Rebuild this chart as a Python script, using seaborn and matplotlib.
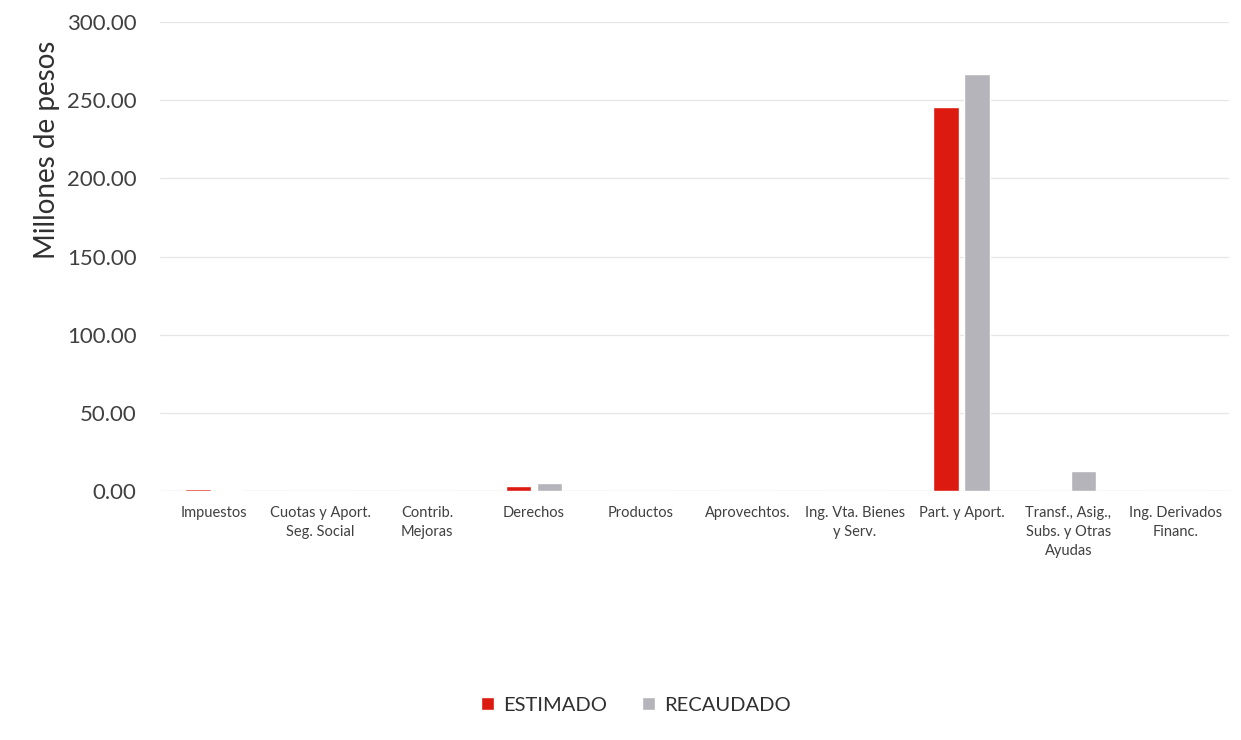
import matplotlib
matplotlib.use("Agg")
import matplotlib.pyplot as plt
import seaborn as sns
import pandas as pd
from matplotlib.ticker import FuncFormatter

categorias = ["Impuestos", "Cuotas y Aport.\nSeg. Social", "Contrib.\nMejoras", "Derechos",
              "Productos", "Aprovechtos.", "Ing. Vta. Bienes\ny Serv.", "Part. y Aport.",
              "Transf., Asig.,\nSubs. y Otras\nAyudas", "Ing. Derivados\nFinanc."]
estimado = [1.2, 0.0, 0.0, 3.0, 0.0, 0.0, 0.0, 245.8, 0.0, 0.0]
recaudado = [0.4, 0.0, 0.0, 4.8, 0.0, 0.0, 0.0, 266.8, 12.8, 0.0]
series = ["ESTIMADO", "RECAUDADO"]
colores = ["#dc1a10", "#b4b4ba"]

df = pd.DataFrame({
    "categoria": categorias * 2,
    "valor": estimado + recaudado,
    "serie": [series[0]] * len(categorias) + [series[1]] * len(categorias),
})

sns.set_theme(style="white")
plt.rcParams["font.family"] = ["Lato", "DejaVu Sans"]

fig = plt.figure(figsize=(12.41, 7.40), dpi=100)
ax = fig.add_axes([0.129, 0.3365, 0.861, 0.6335])

sns.barplot(data=df, x="categoria", y="valor", hue="serie", palette=colores,
            width=0.58, gap=0.19, ax=ax, saturation=1, legend=True)

ax.set_ylim(0, 300)
ax.set_yticks([0, 50, 100, 150, 200, 250, 300])
ax.yaxis.set_major_formatter(FuncFormatter(lambda v, p: f"{v:.2f}"))
ax.grid(axis="y", color="#e6e6e6", linewidth=0.9)
ax.set_axisbelow(True)
for s in ax.spines.values():
    s.set_visible(False)
ax.axhline(0, color="#e0e0e0", linewidth=0.9, zorder=0)

ax.tick_params(axis="y", labelsize=16, colors="#404040", length=0, pad=17)
ax.tick_params(axis="x", labelsize=10.5, colors="#404040", length=0, pad=11)
for lbl in ax.get_xticklabels():
    lbl.set_linespacing(1.45)
ax.set_xlabel("")
ax.set_ylabel("Millones de pesos", fontsize=20, color="#303030")
ax.yaxis.set_label_coords(-0.094, 0.727)

ax.get_legend().remove()
handles, labels = ax.get_legend_handles_labels()
leg = fig.legend(handles, labels, loc="center", bbox_to_anchor=(0.5125, 0.047), ncol=2,
                 frameon=False, fontsize=14.5, handlelength=0.65, handleheight=0.65,
                 handletextpad=0.45, columnspacing=1.7)
for t in leg.get_texts():
    t.set_color("#303030")

fig.savefig("out.png", dpi=100)
